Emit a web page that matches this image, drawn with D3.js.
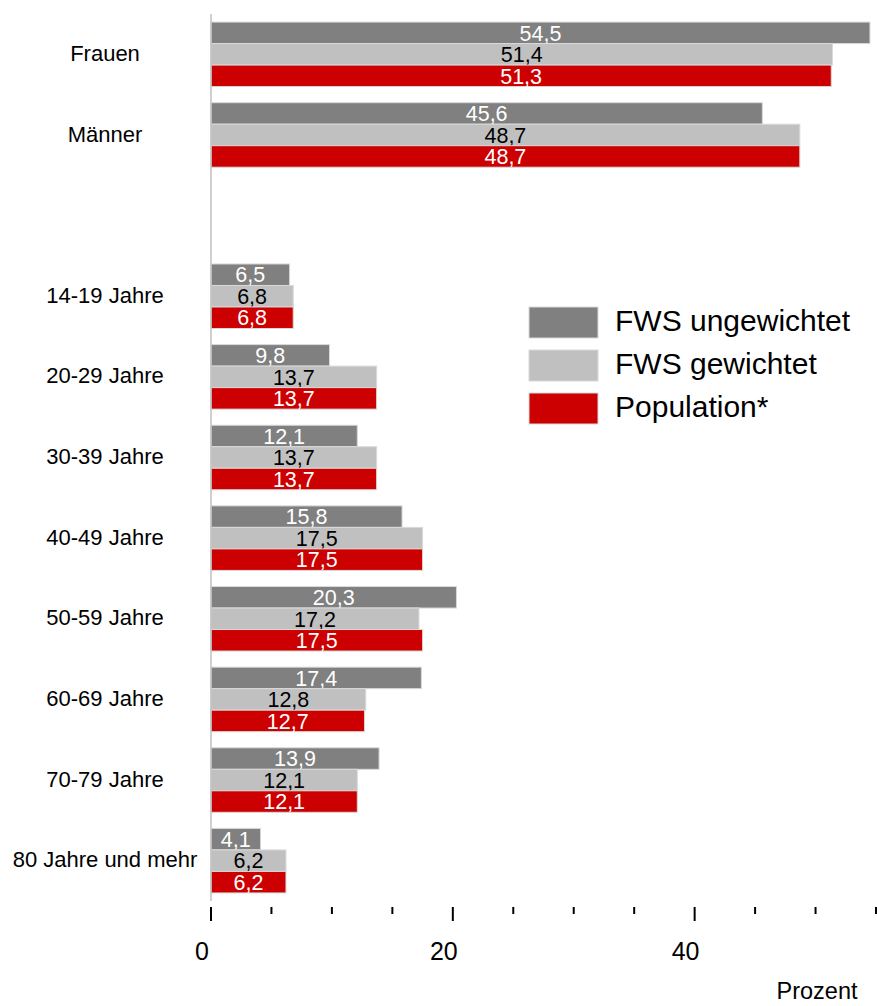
<!DOCTYPE html>
<html>
<head>
<meta charset="utf-8">
<script src="https://d3js.org/d3.v7.min.js"></script>
<style>
  body { margin: 0; background: #fff; }
  svg text { font-family: "Liberation Sans", Arial, sans-serif; }
  .bar { stroke: #d9d9d9; stroke-width: 1px; }
</style>
</head>
<body>
<div id="chart"></div>
<script>
var categories = ["Frauen", "Männer", "", "14-19 Jahre", "20-29 Jahre", "30-39 Jahre",
  "40-49 Jahre", "50-59 Jahre", "60-69 Jahre", "70-79 Jahre", "80 Jahre und mehr"];
var ungewichtet = [54.5, 45.6, null, 6.5, 9.8, 12.1, 15.8, 20.3, 17.4, 13.9, 4.1];
var gewichtet   = [51.4, 48.7, null, 6.8, 13.7, 13.7, 17.5, 17.2, 12.8, 12.1, 6.2];
var population  = [51.3, 48.7, null, 6.8, 13.7, 13.7, 17.5, 17.5, 12.7, 12.1, 6.2];
var seriesNames = ["FWS ungewichtet", "FWS gewichtet", "Population*"];
var xTicks = [0, 20, 40];

var w = 877, h = 1006;
var series = [
  { name: seriesNames[0], values: ungewichtet, fill: "#808080", text: "#fff" },
  { name: seriesNames[1], values: gewichtet, fill: "#c0c0c0", text: "#000" },
  { name: seriesNames[2], values: population, fill: "#cc0000", text: "#fff" }
];

var svg = d3.select("#chart").append("svg")
  .attr("width", w).attr("height", h);

var x = d3.scaleLinear().domain([0, 55]).range([211, 876]);
var y = d3.scaleBand().domain(categories).range([14, 901])
  .paddingInner(0.2).paddingOuter(0.1);
var ySub = d3.scaleBand().domain(d3.range(series.length)).range([0, y.bandwidth()]);

// bars
series.forEach(function (s, si) {
  var rows = categories.map(function (c, i) { return { cat: c, v: s.values[i] }; })
    .filter(function (d) { return d.v != null; });
  var g = svg.append("g");
  g.selectAll("rect").data(rows).enter().append("rect")
    .attr("class", "bar")
    .attr("x", x(0))
    .attr("y", function (d) { return y(d.cat) + ySub(si); })
    .attr("width", function (d) { return x(d.v) - x(0); })
    .attr("height", ySub.bandwidth())
    .attr("fill", s.fill);
  g.selectAll("text").data(rows).enter().append("text")
    .attr("x", function (d) { return (x(0) + x(d.v)) / 2; })
    .attr("y", function (d) { return y(d.cat) + ySub(si) + ySub.bandwidth() / 2; })
    .attr("dy", "0.36em")
    .attr("text-anchor", "middle")
    .attr("font-size", 21.5)
    .attr("fill", s.text)
    .text(function (d) { return d.v.toFixed(1).replace(".", ","); });
});

// vertical axis line
svg.append("line")
  .attr("x1", x(0)).attr("x2", x(0))
  .attr("y1", 14).attr("y2", 901)
  .attr("stroke", "#c0c0c0").attr("stroke-width", 1.5);

// category labels
svg.append("g").selectAll("text").data(categories).enter().append("text")
  .attr("x", 105)
  .attr("y", function (d) { return y(d) + y.bandwidth() / 2; })
  .attr("dy", "0.3em")
  .attr("text-anchor", "middle")
  .attr("font-size", 22)
  .attr("fill", "#000")
  .text(function (d) { return d; });

// bottom ticks
var minor = d3.range(0, 56, 5);
svg.append("g").selectAll("line").data(minor).enter().append("line")
  .attr("x1", function (d) { return x(d); })
  .attr("x2", function (d) { return x(d); })
  .attr("y1", 907)
  .attr("y2", function (d) { return xTicks.indexOf(d) >= 0 ? 921 : 914; })
  .attr("stroke", "#000").attr("stroke-width", 2);

svg.append("g").selectAll("text").data(xTicks).enter().append("text")
  .attr("x", function (d) { return x(d) - 9; })
  .attr("y", 960)
  .attr("text-anchor", "middle")
  .attr("font-size", 25)
  .text(function (d) { return d; });

svg.append("text")
  .attr("x", 817).attr("y", 999)
  .attr("text-anchor", "middle")
  .attr("font-size", 23.5)
  .text("Prozent");

// legend
var lg = svg.append("g").attr("transform", "translate(529,307)");
series.forEach(function (s, i) {
  lg.append("rect")
    .attr("x", 0).attr("y", i * 43)
    .attr("width", 69).attr("height", 31)
    .attr("fill", s.fill)
    .attr("stroke", "#d9d9d9").attr("stroke-width", 1);
  lg.append("text")
    .attr("x", 86).attr("y", i * 43 + 24)
    .attr("font-size", 30)
    .text(s.name);
});
</script>
</body>
</html>
